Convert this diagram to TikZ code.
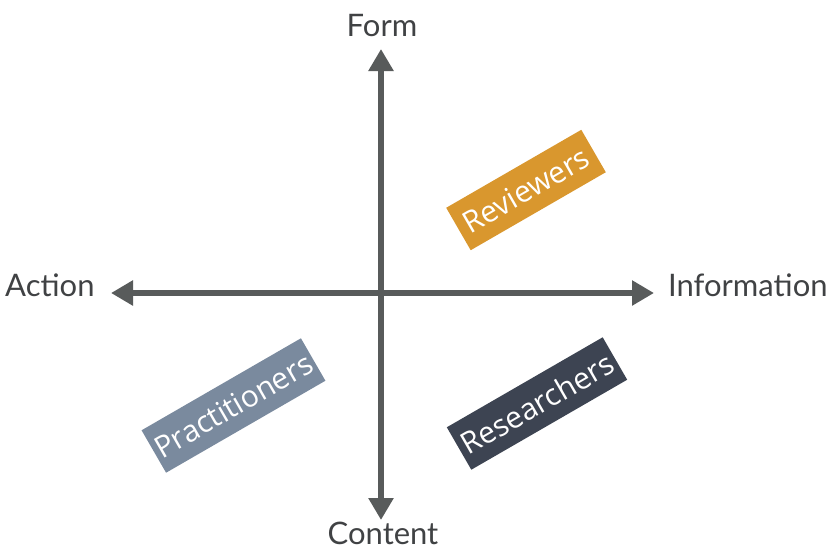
\documentclass[tikz,border=0pt]{standalone}
\usepackage{fontspec}
\setmainfont{Lato}
\newfontfamily\boxfont{Open Sans}
\usetikzlibrary{arrows.meta}
\definecolor{axiscol}{HTML}{585B5B}
\definecolor{labelcol}{HTML}{404244}
\definecolor{revcol}{HTML}{D9972E}
\definecolor{praccol}{HTML}{7A8A9E}
\definecolor{rescol}{HTML}{3D4452}
\tikzset{
  axis/.style={draw=axiscol, line width=6pt, {Triangle[length=22pt,width=24pt]}-{Triangle[length=22pt,width=24pt]}},
  axlabel/.style={text=labelcol, font=\fontsize{31}{36}\selectfont, inner sep=0pt},
  group/.style={rotate=30, text=white, inner sep=0pt, minimum height=49pt, font=\boxfont\fontsize{30}{32}\selectfont}
}
\begin{document}
\begin{tikzpicture}[x=1pt,y=-1pt]
\useasboundingbox (0,0) rectangle (836,558);
\coordinate (top) at (381,49);
\coordinate (bottom) at (381,520);
\coordinate (left) at (111,293);
\coordinate (right) at (654,293);
\draw[axis] (bottom) -- (top);
\draw[axis] (left) -- (right);
\node[axlabel, anchor=base] (form) at (382,36) {Form};
\node[axlabel, anchor=base] (content) at (383,544) {Content};
\node[axlabel, anchor=base west] (action) at (5,296) {Action};
\node[axlabel, anchor=base west] (info) at (668,296) {Information};
\node[group, fill=revcol, minimum width=156pt] (rev) at (526,190) {Reviewers};
\node[group, fill=praccol, minimum width=184pt] (prac) at (233.5,405.5) {Practitioners};
\node[group, fill=rescol, minimum width=180pt] (res) at (537,403.5) {Researchers};
\end{tikzpicture}
\end{document}
